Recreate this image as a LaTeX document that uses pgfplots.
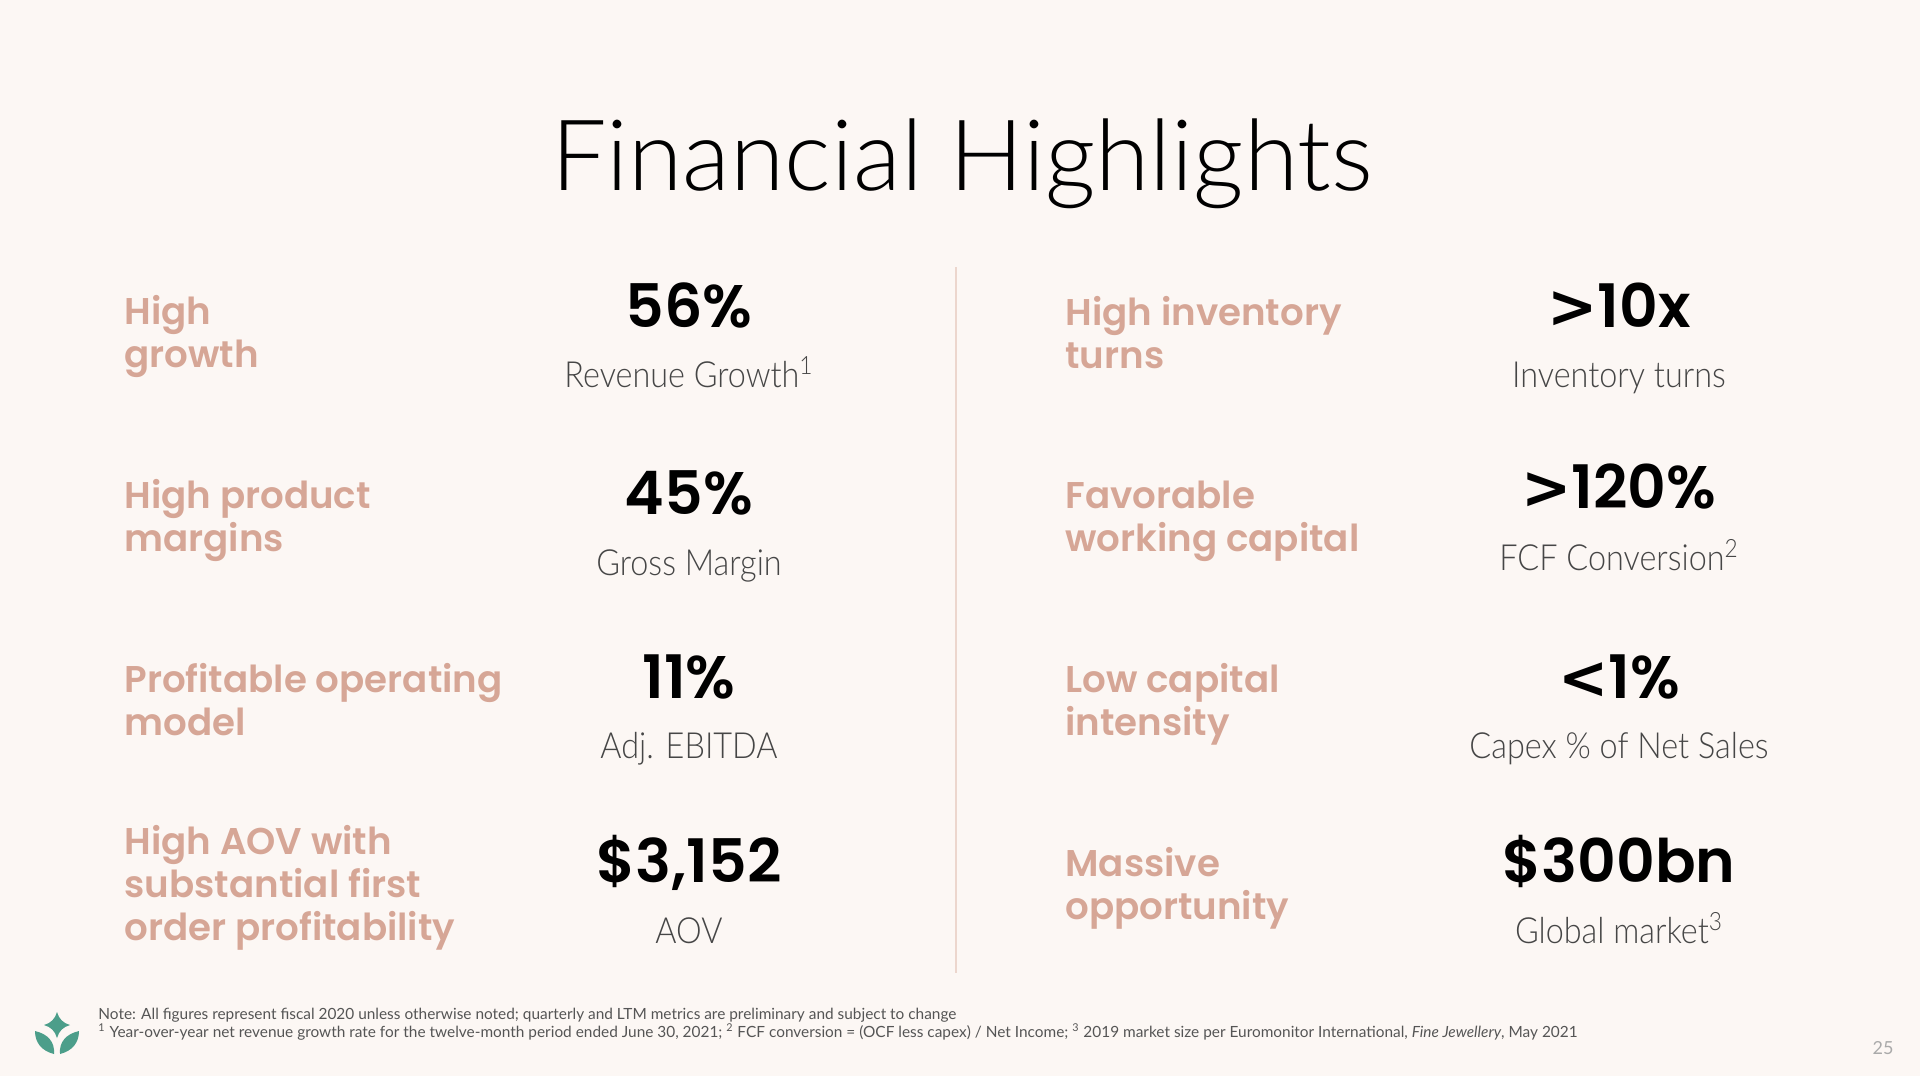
\documentclass[border=0pt]{standalone}
\usepackage{pgfplots}
\pgfplotsset{compat=1.18}
\usepackage{fontspec}
\setmainfont{Lato}
\newfontfamily\titlefont{Lato Light}
\newfontfamily\headfont{Poppins SemiBold}
\newfontfamily\numfont{Poppins SemiBold}
\newfontfamily\symf{DejaVu Sans}
\newfontfamily\subfont{Lato Light}[FakeStretch=0.9]
\newfontfamily\notefont{Lato}
\newcommand{\gt}{{\symf\bfseries >}}
\newcommand{\lt}{{\symf\bfseries <}}
\definecolor{bgc}{RGB}{252,247,244}
\definecolor{pinkc}{RGB}{214,166,150}
\definecolor{subc}{RGB}{70,70,70}
\definecolor{notec}{RGB}{85,85,85}
\definecolor{divc}{RGB}{236,214,205}
\definecolor{logoc}{RGB}{76,158,138}
\definecolor{pagec}{RGB}{170,170,170}
\begin{document}
\begin{tikzpicture}
\begin{axis}[width=960pt,height=538pt,scale only axis,
  xmin=0,xmax=1920,ymin=0,ymax=1076,y dir=reverse,hide axis,clip=false]
\fill[bgc] (axis cs:0,0) rectangle (axis cs:1920,1076);
% divider
\addplot[draw=divc,line width=1pt] coordinates {(956,267) (956,973)};
% title
\node[anchor=base,font=\titlefont\fontsize{49.3}{55}\selectfont,text=black,inner sep=0pt] at (axis cs:962,190) {Financial Highlights};
% headings
\begin{scope}[every node/.style={anchor=base west,font=\headfont\fontsize{18.6}{21}\selectfont,text=pinkc,inner sep=0pt}]
\node at (axis cs:124,324) {High};
\node at (axis cs:124,367) {growth};
\node at (axis cs:124,508) {High product};
\node at (axis cs:124,551) {margins};
\node at (axis cs:124,692) {Profitable operating};
\node at (axis cs:124,735) {model};
\node at (axis cs:124,854) {High AOV with};
\node at (axis cs:124,897) {substantial first};
\node at (axis cs:124,940) {order profitability};
\node at (axis cs:1065,325) {High inventory};
\node at (axis cs:1065,368) {turns};
\node at (axis cs:1065,508) {Favorable};
\node at (axis cs:1065,551) {working capital};
\node at (axis cs:1065,692) {Low capital};
\node at (axis cs:1065,735) {intensity};
\node at (axis cs:1065,876) {Massive};
\node at (axis cs:1065,919) {opportunity};
\end{scope}
% numbers
\begin{scope}[every node/.style={anchor=base,font=\numfont\fontsize{30}{34}\selectfont,text=black,inner sep=0pt}]
\node at (axis cs:689,327) {56\%};
\node at (axis cs:689,514) {45\%};
\node at (axis cs:689,698) {11\%};
\node at (axis cs:689,882) {\$3,152};
\node at (axis cs:1619,327) {\gt10x};
\node at (axis cs:1619,508) {\gt120\%};
\node at (axis cs:1619,698) {\lt1\%};
\node at (axis cs:1619,882) {\$300bn};
\end{scope}
% subtitles
\begin{scope}[every node/.style={anchor=base,font=\subfont\fontsize{18}{21}\selectfont,text=subc,inner sep=0pt}]
\node at (axis cs:689,387) {Revenue Growth\textsuperscript{1}};
\node at (axis cs:689,575) {Gross Margin};
\node at (axis cs:689,758) {Adj. EBITDA};
\node at (axis cs:689,943) {AOV};
\node at (axis cs:1619,387) {Inventory turns};
\node at (axis cs:1619,570) {FCF Conversion\textsuperscript{2}};
\node at (axis cs:1619,758) {Capex \% of Net Sales};
\node at (axis cs:1619,943) {Global market\textsuperscript{3}};
\end{scope}
% footnotes
\begin{scope}[every node/.style={anchor=base west,font=\notefont\fontsize{7.7}{9}\selectfont,text=notec,inner sep=0pt}]
\node at (axis cs:98,1019) {Note: All figures represent fiscal 2020 unless otherwise noted; quarterly and LTM metrics are preliminary and subject to change};
\node at (axis cs:98,1037) {\textsuperscript{1} Year-over-year net revenue growth rate for the twelve-month period ended June 30, 2021; \textsuperscript{2} FCF conversion = (OCF less capex) / Net Income; \textsuperscript{3} 2019 market size per Euromonitor International, \textit{Fine Jewellery}, May 2021};
\end{scope}
\node[anchor=base,font=\notefont\fontsize{9}{10}\selectfont,text=pagec,inner sep=0pt] at (axis cs:1883,1054) {25};
% logo
\fill[logoc] (axis cs:57,1012) .. controls (axis cs:59,1019) and (axis cs:63,1023) .. (axis cs:70,1025)
  .. controls (axis cs:63,1027) and (axis cs:59,1031) .. (axis cs:57,1038)
  .. controls (axis cs:55,1031) and (axis cs:51,1027) .. (axis cs:44,1025)
  .. controls (axis cs:51,1023) and (axis cs:55,1019) .. (axis cs:57,1012) -- cycle;
\fill[logoc] (axis cs:35,1031) .. controls (axis cs:48,1034) and (axis cs:55,1042) .. (axis cs:54,1054)
  .. controls (axis cs:42,1051) and (axis cs:35,1043) .. (axis cs:35,1031) -- cycle;
\fill[logoc] (axis cs:79,1031) .. controls (axis cs:66,1034) and (axis cs:59,1042) .. (axis cs:60,1054)
  .. controls (axis cs:72,1051) and (axis cs:79,1043) .. (axis cs:79,1031) -- cycle;
\end{axis}
\end{tikzpicture}
\end{document}
